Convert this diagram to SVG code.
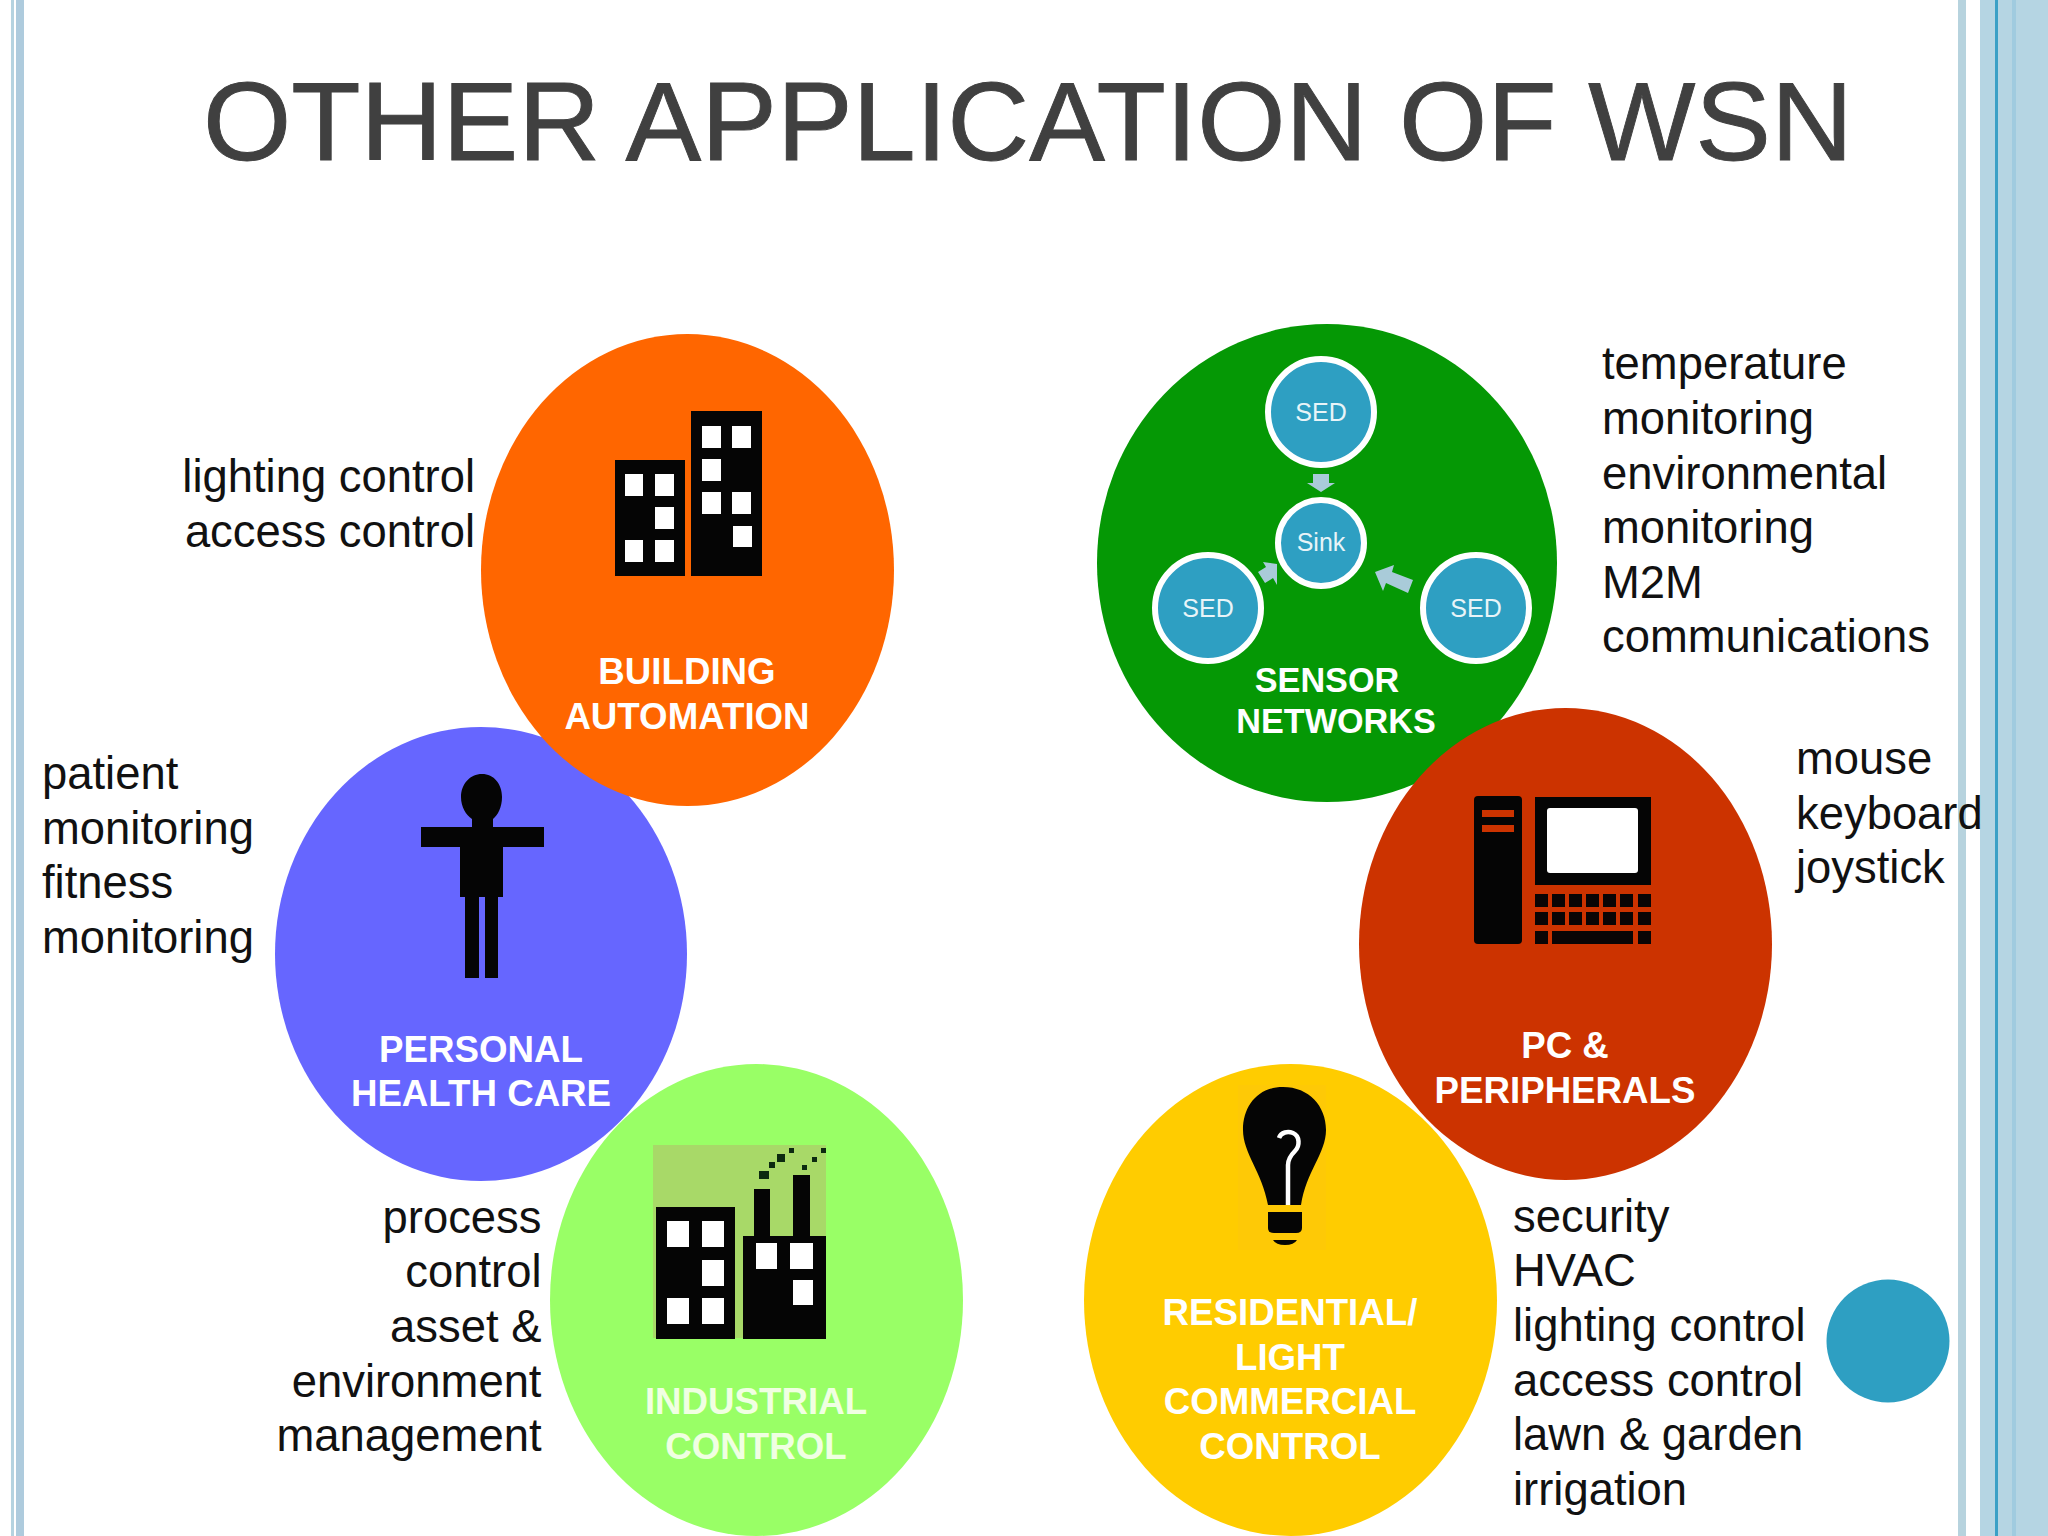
<svg xmlns="http://www.w3.org/2000/svg" width="2048" height="1536" viewBox="0 0 2048 1536">
<style>
text{font-family:"Liberation Sans",Arial,sans-serif}
.t{font-size:45.4px;fill:#111}
.r{text-anchor:end}
.c{font-size:36.7px;font-weight:bold;fill:#fff;text-anchor:middle}
.c2{font-size:34.2px}
.s{font-size:25px;fill:#e8f4f8;text-anchor:middle}
.sed{fill:#2e9fc2;stroke:#fff;stroke-width:6}
.w{fill:#fff}
.a{fill:#a9cbd9}
.i{fill:#f0ffe2}
</style>
<rect width="2048" height="1536" fill="#fff"/>
<g id="border">
<rect x="11" y="0" width="3" height="1536" fill="#b5d3e0"/>
<rect x="16" y="0" width="8" height="1536" fill="#aecbdd"/>
<rect x="1958" y="0" width="8" height="1536" fill="#b7d3de"/>
<rect x="1980" y="0" width="68" height="1536" fill="#b5d5e3"/>
<rect x="1995" y="0" width="3" height="1536" fill="#3ba0c6"/>
<rect x="2012" y="0" width="4" height="1536" fill="#a0cbdf"/>
</g>
<text id="title" x="203" y="160" font-size="111" fill="#404040" stroke="#404040" stroke-width="0.9" textLength="1650" lengthAdjust="spacingAndGlyphs">OTHER APPLICATION OF WSN</text>
<circle id="accent" cx="1888" cy="1341" r="61.500" fill="#2e9fc2"/>

<g id="sensor-networks">
<ellipse cx="1327" cy="563" rx="230" ry="239" fill="#059805"/>
<circle class="sed" cx="1321" cy="412" r="53"/>
<text class="s" x="1321" y="420.500">SED</text>
<circle class="sed" cx="1321" cy="543" r="43"/>
<text class="s" x="1321" y="551">Sink</text>
<circle class="sed" cx="1208" cy="608" r="53"/>
<text class="s" x="1208" y="616.500">SED</text>
<circle class="sed" cx="1476" cy="608" r="53"/>
<text class="s" x="1476" y="616.500">SED</text>
<polygon class="a" points="1313,474 1329,474 1329,483 1335,483 1321,492 1307,483 1313,483"/>
<polygon class="a" points="1258,572 1266,567 1263,562 1277,564 1277,585 1273,578 1265,583"/>
<polygon class="a" points="1413,580 1392,572 1394,565 1375,572 1383,591 1386,583 1408,593"/>
<text class="c c2" x="1327" y="692">SENSOR</text>
<text class="c c2" x="1336" y="733">NETWORKS</text>
</g>

<g id="pc-peripherals">
<ellipse cx="1565.500" cy="944" rx="206.500" ry="236" fill="#cc3300"/>
<rect x="1474" y="796" width="48" height="148" rx="4" fill="#050505"/>
<rect x="1482" y="810" width="32" height="7" fill="#cc3300"/>
<rect x="1482" y="825" width="32" height="7" fill="#cc3300"/>
<rect x="1535" y="797" width="116" height="88" fill="#050505"/>
<rect x="1547" y="808" width="91" height="65" rx="3" fill="#fff"/>
<g fill="#0a0505">
<rect x="1535" y="894" width="13" height="13"/><rect x="1552" y="894" width="13" height="13"/><rect x="1569" y="894" width="13" height="13"/><rect x="1586" y="894" width="13" height="13"/><rect x="1603" y="894" width="13" height="13"/><rect x="1620" y="894" width="13" height="13"/><rect x="1638" y="894" width="13" height="13"/>
<rect x="1535" y="912" width="13" height="13"/><rect x="1552" y="912" width="13" height="13"/><rect x="1569" y="912" width="13" height="13"/><rect x="1586" y="912" width="13" height="13"/><rect x="1603" y="912" width="13" height="13"/><rect x="1620" y="912" width="13" height="13"/><rect x="1638" y="912" width="13" height="13"/>
<rect x="1535" y="931" width="13" height="13"/><rect x="1552" y="931" width="81" height="13"/><rect x="1638" y="931" width="13" height="13"/>
</g>
<text class="c" x="1565" y="1058">PC &amp;</text>
<text class="c" x="1565" y="1103">PERIPHERALS</text>
</g>

<g id="residential">
<ellipse cx="1290.500" cy="1300" rx="206.500" ry="236" fill="#ffcc00"/>
<rect x="1238" y="1085" width="88" height="165" fill="#fec906"/>
<path d="M1283 1087C1258 1087 1243 1106 1243 1130C1243 1153 1262 1172 1268 1205L1301 1205C1306 1172 1326 1153 1326 1130C1326 1106 1309 1087 1283 1087Z" fill="#050505"/>
<path d="M1268 1212H1302V1228Q1302 1233 1296 1233H1274Q1268 1233 1268 1228Z" fill="#050505"/>
<path d="M1273 1240H1297Q1294 1245 1285 1245Q1276 1245 1273 1240Z" fill="#050505"/>
<path d="M1279 1138C1281 1132 1288 1131 1293 1133C1300 1136 1300 1146 1295 1151C1291 1155 1288 1159 1288 1165V1205" fill="none" stroke="#fff" stroke-width="4.500"/>
<text class="c" x="1290" y="1325">RESIDENTIAL/</text>
<text class="c" x="1290" y="1370">LIGHT</text>
<text class="c" x="1290" y="1414">COMMERCIAL</text>
<text class="c" x="1290" y="1459">CONTROL</text>
</g>

<g id="personal-health-care">
<ellipse cx="481" cy="954" rx="206" ry="227" fill="#6666ff"/>
<path d="M482 774C470 774 461 784 461 797C461 807 466 815 472 819V827H421V847H460V897H465V978H479V897H485V978H498V897H503V847H544V827H493V819C498 815 502 807 502 797C502 784 494 774 482 774Z" fill="#050505"/>
<text class="c" x="481" y="1062">PERSONAL</text>
<text class="c" x="481" y="1106">HEALTH CARE</text>
</g>

<g id="building-automation">
<ellipse cx="687.500" cy="570" rx="206.500" ry="236" fill="#ff6600"/>
<rect x="615" y="460" width="70" height="116" fill="#050505"/>
<rect x="691" y="411" width="71" height="165" fill="#050505"/>
<g class="w">
<rect x="625" y="474" width="18" height="22"/><rect x="655" y="474" width="19" height="22"/><rect x="655" y="507" width="19" height="22"/><rect x="625" y="540" width="18" height="22"/><rect x="655" y="540" width="19" height="22"/>
<rect x="702" y="426" width="19" height="22"/><rect x="732" y="426" width="19" height="22"/><rect x="702" y="459" width="19" height="22"/><rect x="702" y="492" width="19" height="22"/><rect x="732" y="492" width="19" height="22"/><rect x="733" y="526" width="19" height="21"/>
</g>
<text class="c" x="687" y="684">BUILDING</text>
<text class="c" x="687" y="729">AUTOMATION</text>
</g>

<g id="industrial-control">
<ellipse cx="756.500" cy="1300" rx="206.500" ry="236" fill="#99ff66"/>
<rect x="653" y="1145" width="173" height="193" fill="#a8d968"/>
<rect x="656" y="1207" width="79" height="132" fill="#050505"/>
<path d="M743 1339V1236H754V1189H770V1236H793V1175H810V1236H826V1339Z" fill="#050505"/>
<g class="w">
<rect x="667" y="1221" width="22" height="26"/><rect x="702" y="1221" width="22" height="26"/><rect x="702" y="1260" width="22" height="26"/><rect x="667" y="1298" width="22" height="26"/><rect x="702" y="1298" width="22" height="26"/>
<rect x="756" y="1243" width="21" height="26"/><rect x="790" y="1243" width="23" height="26"/><rect x="793" y="1280" width="20" height="25"/>
</g>
<g fill="#0c2a10">
<rect x="759" y="1171" width="10" height="8"/><rect x="769" y="1162" width="6" height="6"/><rect x="777" y="1154" width="8" height="8"/><rect x="789" y="1148" width="5" height="5"/><rect x="802" y="1165" width="5" height="5"/><rect x="812" y="1157" width="5" height="5"/><rect x="821" y="1148" width="5" height="5"/>
</g>
<text class="c i" x="756" y="1414">INDUSTRIAL</text>
<text class="c i" x="756" y="1459">CONTROL</text>
</g>

<g id="labels">
<text class="t r" x="475" y="492">lighting control</text>
<text class="t r" x="475" y="547">access control</text>
<text class="t" x="42" y="789">patient</text>
<text class="t" x="42" y="844">monitoring</text>
<text class="t" x="42" y="898">fitness</text>
<text class="t" x="42" y="953">monitoring</text>
<text class="t r" x="541.500" y="1233">process</text>
<text class="t r" x="541.500" y="1287">control</text>
<text class="t r" x="541.500" y="1342">asset &amp;</text>
<text class="t r" x="541.500" y="1397">environment</text>
<text class="t r" x="541.500" y="1451">management</text>
<text class="t" x="1602" y="379">temperature</text>
<text class="t" x="1602" y="434">monitoring</text>
<text class="t" x="1602" y="489">environmental</text>
<text class="t" x="1602" y="543">monitoring</text>
<text class="t" x="1602" y="598">M2M</text>
<text class="t" x="1602" y="652">communications</text>
<text class="t" x="1796" y="774">mouse</text>
<text class="t" x="1796" y="829">keyboard</text>
<text class="t" x="1796" y="883">joystick</text>
<text class="t" x="1513" y="1232">security</text>
<text class="t" x="1513" y="1286">HVAC</text>
<text class="t" x="1513" y="1341">lighting control</text>
<text class="t" x="1513" y="1396">access control</text>
<text class="t" x="1513" y="1450">lawn &amp; garden</text>
<text class="t" x="1513" y="1505">irrigation</text>
</g>
</svg>
